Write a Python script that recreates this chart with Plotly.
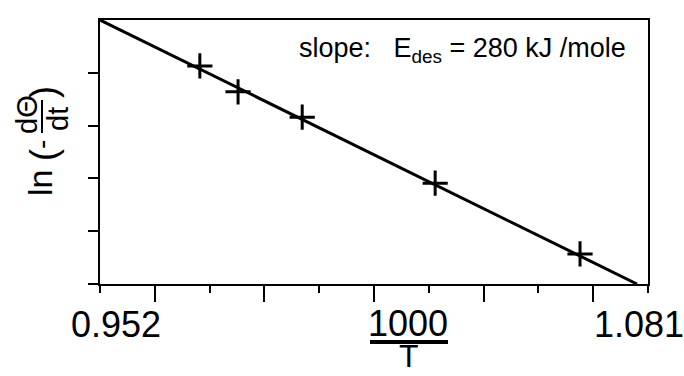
import plotly.graph_objects as go

# ---- data ----
inv_T = [0.9755, 0.9845, 0.9996, 1.0309, 1.0650]     # 1000/T
ln_rate = [4.13, 3.64, 3.16, 1.91, 0.57]              # ln(-dθ/dt), arbitrary units
fit_x = [0.952, 1.0784]
fit_y = [5.0, 0.0]
x_major = [0.9649, 0.9907, 1.0165, 1.0423, 1.0681]
x_minor = [0.952, 0.9778, 1.0036, 1.0294, 1.0552, 1.081]
x_labels = ["0.952", "1.081"]
x_label_pos = [0.952, 1.081]
y_ticks = [0, 1, 2, 3, 4]

W, H = 684, 376
L, R, T, B = 100, 36, 20, 92
PW, PH = W - L - R, H - T - B


def px(x):
    return (x - L) / PW


def py(y):
    return (H - B - y) / PH


FONT = "Liberation Sans"

fig = go.Figure()
fig.add_trace(go.Scatter(x=fit_x, y=fit_y, mode="lines",
                         line=dict(color="black", width=3), showlegend=False))
fig.add_trace(go.Scatter(x=inv_T, y=ln_rate, mode="markers",
                         marker=dict(symbol="cross-thin", size=18,
                                     line=dict(color="black", width=3)),
                         showlegend=False))

ann = []
# x tick labels
shifts = [16, -9]
for v, t, s in zip(x_label_pos, x_labels, shifts):
    ann.append(dict(x=v, y=py(324), xref="x", yref="paper", text=t, showarrow=False,
                    xshift=s, xanchor="center", yanchor="middle",
                    font=dict(family=FONT, size=36, color="black")))
# x title 1000 / T
ann.append(dict(x=px(408), y=py(323), xref="paper", yref="paper", text="1000",
                showarrow=False, xanchor="center", yanchor="middle",
                font=dict(family=FONT, size=36, color="black")))
ann.append(dict(x=px(409), y=py(376), xref="paper", yref="paper", text="T",
                showarrow=False, xanchor="center", yanchor="bottom",
                font=dict(family=FONT, size=32, color="black")))
# y title ln(-dθ/dt) built from pieces
ylab = [
    ("ln", 40, 183, 34),
    ("(", 43, 155, 36),
    ("-", 41, 145, 28),
    ("dΘ", 27, 115, 29),
    ("dt", 58, 119, 29),
    (")", 43, 92, 36),
]
for t, x, y, s in ylab:
    ann.append(dict(x=px(x), y=py(y), xref="paper", yref="paper", text=t,
                    showarrow=False, textangle=-90, xanchor="center", yanchor="middle",
                    font=dict(family=FONT, size=s, color="black")))
# slope text
ann.append(dict(x=px(297), y=py(50), xref="paper", yref="paper",
                text="slope:   E<sub>des</sub> = 280 kJ /mole",
                showarrow=False, xanchor="left", yanchor="middle",
                font=dict(family=FONT, size=27, color="black")))

shapes = [
    dict(type="line", xref="paper", yref="paper", x0=px(370), x1=px(448),
         y0=py(342), y1=py(342), line=dict(color="black", width=4)),
    dict(type="line", xref="paper", yref="paper", x0=px(42), x1=px(42),
         y0=py(100), y1=py(133), line=dict(color="black", width=2)),
]

fig.update_layout(
    width=W, height=H,
    margin=dict(l=L, r=R, t=T, b=B),
    paper_bgcolor="white", plot_bgcolor="white",
    annotations=ann, shapes=shapes,
    xaxis=dict(range=[0.952, 1.081], showgrid=False, zeroline=False,
               showline=True, mirror=True, linecolor="black", linewidth=2,
               tickmode="array", tickvals=x_major, ticks="outside",
               ticklen=16, tickwidth=2, tickcolor="black", showticklabels=False,
               minor=dict(tickmode="array", tickvals=x_minor, ticks="outside",
                          ticklen=7, tickwidth=2, tickcolor="black", showgrid=False)),
    yaxis=dict(range=[0, 5], showgrid=False, zeroline=False,
               showline=True, mirror=True, linecolor="black", linewidth=2,
               tickmode="array", tickvals=y_ticks, ticks="outside",
               ticklen=10, tickwidth=2, tickcolor="black", showticklabels=False),
)

fig.write_html("out.html")
